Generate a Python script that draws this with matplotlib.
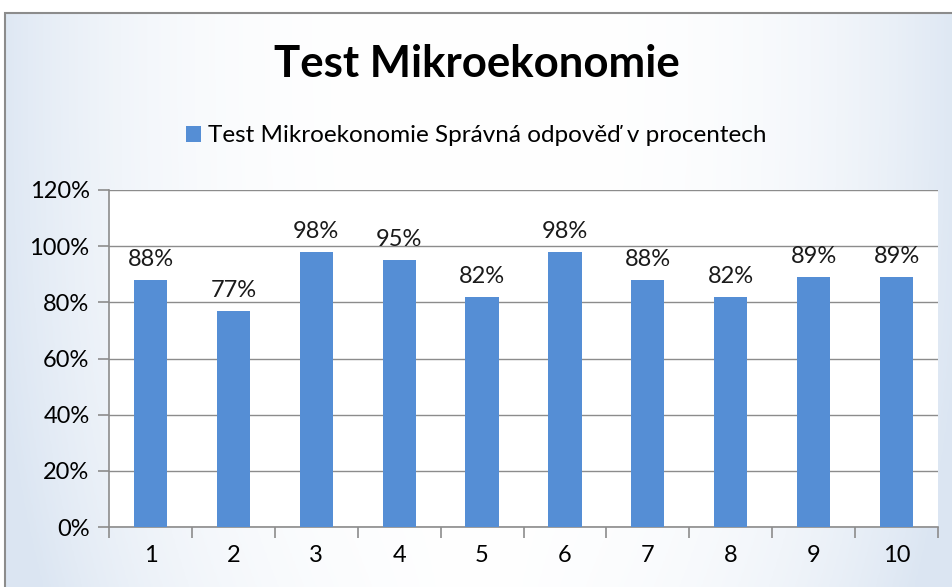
import matplotlib.pyplot as plt
import numpy as np
from matplotlib.patches import Rectangle

questions = ['1', '2', '3', '4', '5', '6', '7', '8', '9', '10']
correct_pct = [88, 77, 98, 95, 82, 98, 88, 82, 89, 89]
y_ticks = [0, 20, 40, 60, 80, 100, 120]
series_name = 'Test Mikroekonomie Správná odpověď v procentech'

plt.rcParams['font.family'] = ['Lato', 'DejaVu Sans']

W, H = 953, 587
fig = plt.figure(figsize=(W / 100, H / 100), dpi=100)
fig.patch.set_facecolor('white')

# chart background: pale blue at the sides fading to white in the middle
bg = fig.add_axes([5 / W, 0, 1 - 5 / W, 1 - 13 / H], zorder=0)
yy, xx = np.mgrid[0:1:200j, 0:1:300j]
side = np.abs(xx - 0.5) * 2
fade = np.clip(side ** 3 * 0.9 + yy ** 3 * 0.3 * side, 0, 1)
white = np.array([1.0, 1.0, 1.0])
blue = np.array([0.86, 0.90, 0.95])
img = white + (blue - white) * fade[..., None]
bg.imshow(img, aspect='auto', extent=[0, 1, 0, 1], origin='upper')
bg.set_xlim(0, 1)
bg.set_ylim(0, 1)
bg.axis('off')
fig.add_artist(Rectangle((5 / W, -0.01), 1.05, 1 - 13 / H + 0.01,
                         transform=fig.transFigure, fill=False,
                         edgecolor='#8c8c8c', linewidth=1.5, zorder=5))

ax = fig.add_axes([109 / W, (H - 527) / H, (938 - 109) / W, (527 - 190) / H], zorder=2)
x = np.arange(len(questions))
bars = ax.bar(x, correct_pct, width=0.4, color='#558ed5', label=series_name, zorder=3)
for b, v in zip(bars, correct_pct):
    ax.text(b.get_x() + b.get_width() / 2, v + 3.5, f'{v}%', ha='center', va='bottom',
            fontsize=17, color='#1a1a1a')

ax.set_xlim(-0.5, len(questions) - 0.5)
ax.set_ylim(0, 120)
ax.set_yticks(y_ticks)
ax.set_yticklabels([f'{t}%' for t in y_ticks], fontsize=17)
ax.set_xticks(x)
ax.set_xticklabels(questions, fontsize=17)
ax.set_xticks(np.arange(-0.5, len(questions)), minor=True)
ax.tick_params(axis='x', which='major', length=0, pad=13)
ax.tick_params(axis='x', which='minor', length=8, color='#8c8c8c', width=1.2)
ax.tick_params(axis='y', length=8, color='#8c8c8c', width=1.2, pad=6)
ax.grid(axis='y', color='#8c8c8c', linewidth=1, zorder=0)
ax.set_axisbelow(True)
for s in ['top', 'right']:
    ax.spines[s].set_visible(False)
for s in ['left', 'bottom']:
    ax.spines[s].set_color('#8c8c8c')
    ax.spines[s].set_linewidth(1.2)
ax.set_facecolor('white')

fig.text(0.5, (H - 64) / H, 'Test Mikroekonomie', ha='center', va='center',
         fontsize=31.5, fontweight='bold', color='black')
fig.legend(handles=[bars], labels=[series_name], loc='center',
           bbox_to_anchor=(0.5, (H - 136) / H), frameon=False, fontsize=17.5,
           handlelength=0.6, handleheight=0.6, handletextpad=0.3)

fig.savefig('out.png', dpi=100)
